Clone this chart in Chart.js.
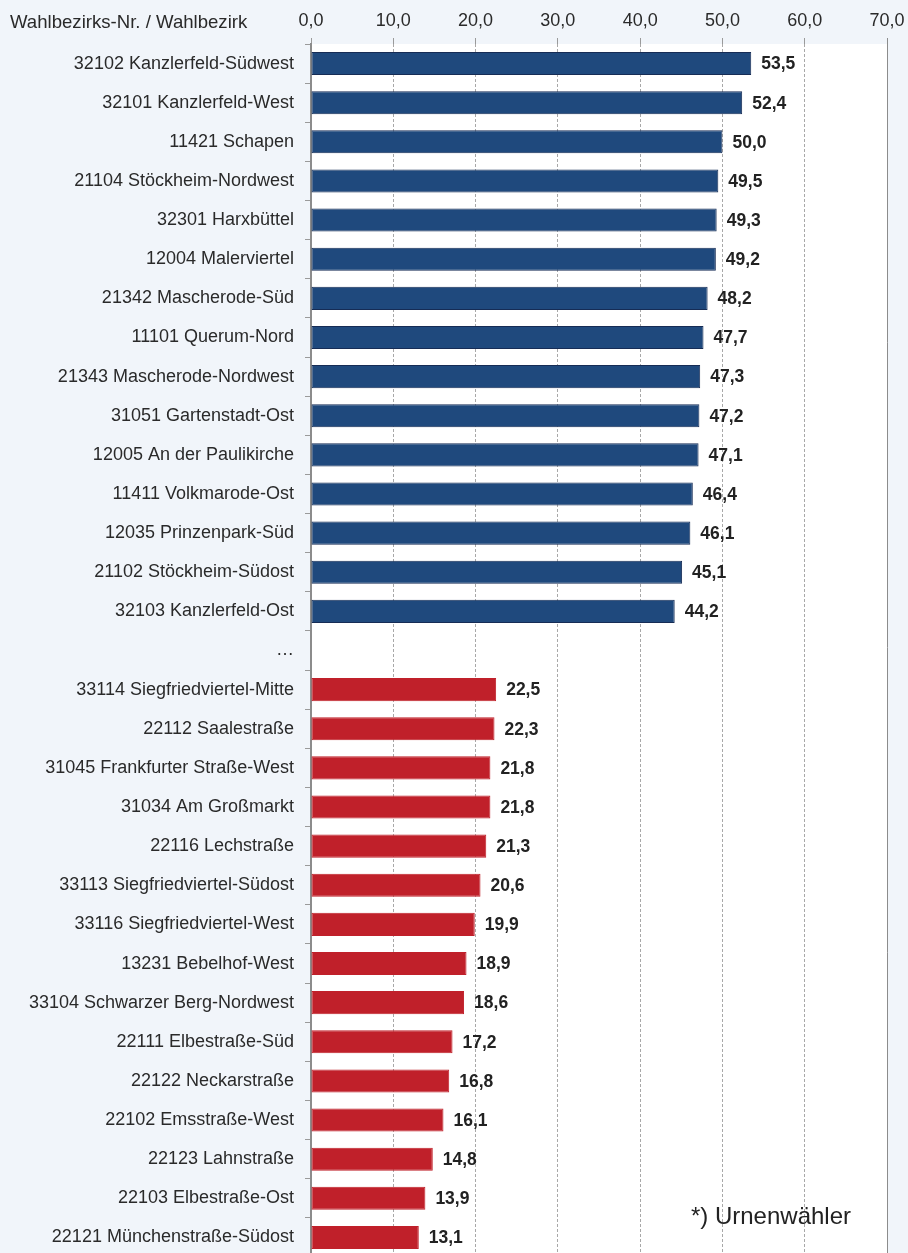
<!DOCTYPE html>
<html>
<head>
<meta charset="utf-8">
<script src="https://cdn.jsdelivr.net/npm/chart.js@4/dist/chart.umd.min.js"></script>
<style>
html,body{margin:0;padding:0;background:#f1f5fa;overflow:hidden;}
#wrap{position:relative;width:908px;height:1257px;}
canvas{display:block;}
</style>
</head>
<body>
<div id="wrap"><canvas id="c" width="908" height="1257"></canvas></div>
<script>
const categories = [
  "32102 Kanzlerfeld-Südwest","32101 Kanzlerfeld-West","11421 Schapen","21104 Stöckheim-Nordwest",
  "32301 Harxbüttel","12004 Malerviertel","21342 Mascherode-Süd","11101 Querum-Nord",
  "21343 Mascherode-Nordwest","31051 Gartenstadt-Ost","12005 An der Paulikirche","11411 Volkmarode-Ost",
  "12035 Prinzenpark-Süd","21102 Stöckheim-Südost","32103 Kanzlerfeld-Ost",
  "…",
  "33114 Siegfriedviertel-Mitte","22112 Saalestraße","31045 Frankfurter Straße-West","31034 Am Großmarkt",
  "22116 Lechstraße","33113 Siegfriedviertel-Südost","33116 Siegfriedviertel-West","13231 Bebelhof-West",
  "33104 Schwarzer Berg-Nordwest","22111 Elbestraße-Süd","22122 Neckarstraße","22102 Emsstraße-West",
  "22123 Lahnstraße","22103 Elbestraße-Ost","22121 Münchenstraße-Südost"
];
const highValues = [53.5,52.4,50.0,49.5,49.3,49.2,48.2,47.7,47.3,47.2,47.1,46.4,46.1,45.1,44.2];
const lowValues = [22.5,22.3,21.8,21.8,21.3,20.6,19.9,18.9,18.6,17.2,16.8,16.1,14.8,13.9,13.1];
const xTicks = [0,10,20,30,40,50,60,70];
const axisTitle = "Wahlbezirks-Nr. / Wahlbezirk";
const footnote = "*) Urnenwähler";

const values = [...highValues, null, ...lowValues];
const colors = values.map((v,i)=> i < highValues.length ? "#1f497d" : "#c0202a");
const borders = values.map((v,i)=> i < highValues.length ? "#162c55" : "#c0202a");
const fmt = v => v.toFixed(1).replace(".", ",");
const FONT = "'Liberation Sans', Arial, sans-serif";

const bgPlugin = {
  id: "bg",
  beforeDraw(chart){
    const {ctx, chartArea:a} = chart;
    ctx.save();
    ctx.fillStyle = "#ffffff";
    ctx.fillRect(a.left, a.top, a.right - a.left, a.bottom - a.top);
    ctx.restore();
  },
  afterDraw(chart){
    const {ctx, chartArea:a} = chart;
    ctx.save();
    ctx.strokeStyle = "#8c8c8c";
    ctx.lineWidth = 1;
    ctx.beginPath();
    ctx.moveTo(a.right + 0.5, a.top - 6);
    ctx.lineTo(a.right + 0.5, a.bottom);
    ctx.stroke();
    ctx.fillStyle = "#2a2a2a";
    ctx.font = "18.6px " + FONT;
    ctx.textAlign = "left";
    ctx.textBaseline = "middle";
    ctx.fillText(axisTitle, 10, 23);
    ctx.fillStyle = "#222222";
    ctx.font = "24px " + FONT;
    ctx.textAlign = "right";
    ctx.fillText(footnote, 851, 1217);
    ctx.restore();
  }
};

const labelPlugin = {
  id: "vals",
  afterDatasetsDraw(chart){
    const {ctx} = chart;
    const meta = chart.getDatasetMeta(0);
    ctx.save();
    ctx.fillStyle = "#222222";
    ctx.font = "bold 17.5px " + FONT;
    ctx.textAlign = "left";
    ctx.textBaseline = "middle";
    meta.data.forEach((el, i) => {
      const v = values[i];
      if (v === null) return;
      ctx.fillText(fmt(v), el.x + 10, el.y + 1);
    });
    ctx.restore();
  }
};

new Chart(document.getElementById("c"), {
  type: "bar",
  data: {
    labels: categories,
    datasets: [{
      data: values,
      backgroundColor: colors,
      borderColor: borders,
      borderWidth: 1,
      borderSkipped: false,
      barPercentage: 0.59,
      categoryPercentage: 1.0
    }]
  },
  options: {
    indexAxis: "y",
    responsive: false,
    maintainAspectRatio: false,
    animation: false,
    devicePixelRatio: 1,
    layout: { padding: { left: 0, right: 21, top: 0, bottom: 0 } },
    plugins: { legend: { display: false }, tooltip: { enabled: false } },
    scales: {
      x: {
        position: "top",
        min: 0, max: 70,
        afterBuildTicks(s){ s.ticks = xTicks.map(v => ({value: v})); },
        afterFit(s){ s.height = 44; s.paddingLeft = 0; s.paddingRight = 0; },
        ticks: {
          callback: v => fmt(v),
          color: "#2a2a2a",
          font: { family: FONT, size: 18 },
          padding: 6
        },
        grid: {
          color: "#a8a8a8",
          tickColor: "#9a9a9a",
          tickLength: 6,
          tickBorderDash: [],
          lineWidth: 1
        },
        border: { display: false, dash: [3, 2] }
      },
      y: {
        afterFit(s){ s.width = 311; s.paddingTop = 0; s.paddingBottom = 0; },
        ticks: {
          color: "#2a2a2a",
          font: { family: FONT, size: 18 },
          padding: 11
        },
        grid: {
          drawOnChartArea: false,
          drawTicks: true,
          tickLength: 6,
          tickColor: "#9a9a9a",
          offset: true
        },
        border: { display: true, color: "#8c8c8c", width: 2 }
      }
    }
  },
  plugins: [bgPlugin, labelPlugin]
});
</script>
</body>
</html>
